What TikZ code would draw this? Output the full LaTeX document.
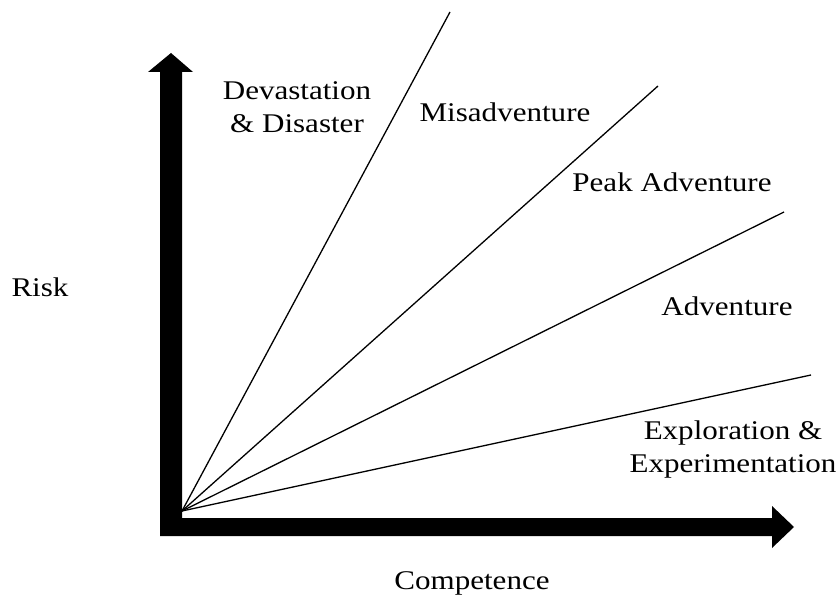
\documentclass[tikz,border=0pt]{standalone}
\usepackage{fontspec}
\setmainfont{Liberation Serif}[FakeStretch=1.15]
\begin{document}
\begin{tikzpicture}[x=1pt,y=-1pt,
  lbl/.style={align=center,inner sep=0pt,font=\fontsize{27}{33}\selectfont},
  ray/.style={line width=1.3pt,black},
  axis/.style={fill=black,draw=none}]
\useasboundingbox (0,0) rectangle (838,601);
% axes
\fill[axis] (160,536) -- (160,72) -- (148,72) -- (171,53) -- (193,72) -- (182,72) -- (182,518)
  -- (772,518) -- (772,506) -- (794,527) -- (772,548) -- (772,536) -- cycle;
% rays
\coordinate (O) at (182,511);
\coordinate (e1) at (450,12);
\coordinate (e2) at (658,86);
\coordinate (e3) at (784,212);
\coordinate (e4) at (811,375);
\draw[ray] (O) -- (e1);
\draw[ray] (O) -- (e2);
\draw[ray] (O) -- (e3);
\draw[ray] (O) -- (e4);
% labels
\node[lbl] (dev) at (297,107) {Devastation\\\& Disaster};
\node[lbl] (mis) at (505,112) {Misadventure};
\node[lbl] (peak) at (672,182) {Peak Adventure};
\node[lbl] (adv) at (727,306) {Adventure};
\node[lbl] (exp) at (733,450) {Exploration \&\\Experimentation};
\node[lbl] (risk) at (40,287) {Risk};
\node[lbl] (comp) at (472,583) {Competence};
\end{tikzpicture}
\end{document}
